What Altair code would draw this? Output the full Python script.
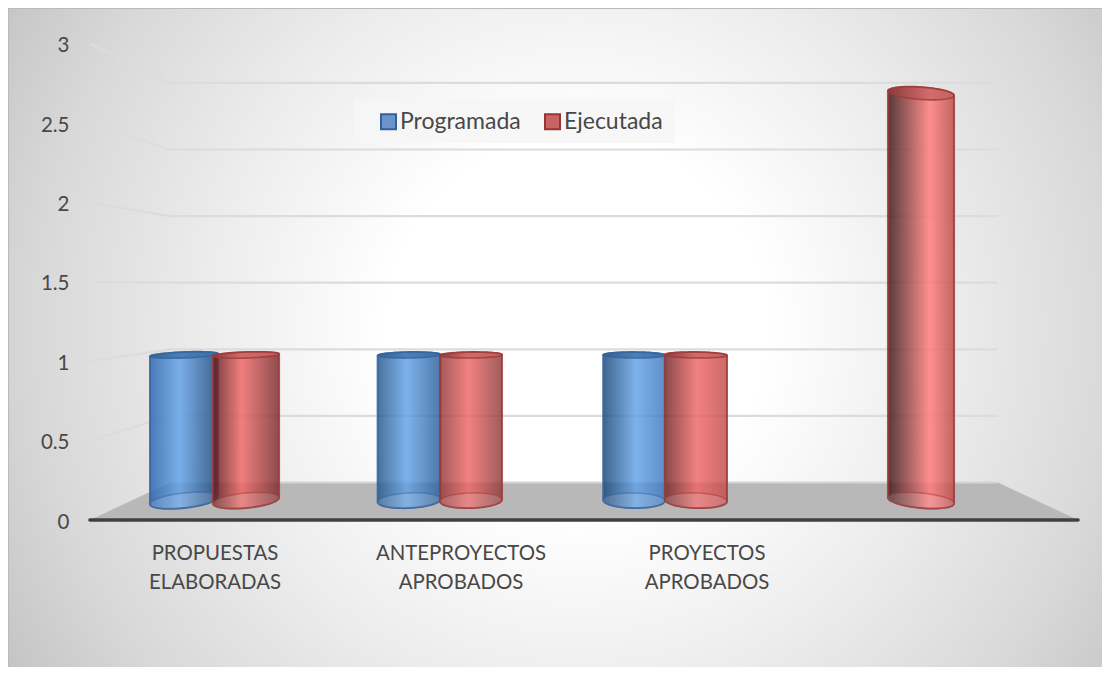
import math
import altair as alt
import pandas as pd

# ---- chart values ----
categories = ["PROPUESTAS\nELABORADAS", "ANTEPROYECTOS\nAPROBADOS", "PROYECTOS\nAPROBADOS", ""]
programada = [1, 1, 1, None]
ejecutada = [1, 1, 1, 2.8]
series_names = ["Programada", "Ejecutada"]
y_ticks = [0, 0.5, 1, 1.5, 2, 2.5, 3]

# ---- styling ----
W, H = 1094, 659
FONT = "Lato"
TEXT = "#484848"
BLUE_EDGE, RED_EDGE = "#35649e", "#9c3a3a"
BODY_OPACITY = 0.82
# seen colours per cylinder: (left colour, highlight offset, right colour)
SHADES = {
    (0, 0): ("#4d7fbc", 0.42, "#3f6591"), (0, 1): ("#7b4040", 0.42, "#8f4f4f"),
    (1, 0): ("#49749f", 0.45, "#4f7aab"), (1, 1): ("#a65a5a", 0.45, "#a05c5c"),
    (2, 0): ("#3f658f", 0.52, "#5e8fc9"), (2, 1): ("#8b4b4b", 0.50, "#cd6a6a"),
    (3, 1): ("#5b3d3d", 0.62, "#c86868"),
}
PEAK = {0: "#7cb0ea", 1: "#f08080"}
PEAK_4 = "#ff9090"


def body_colour(hex_colour):
    """Colour to paint so that, translucent over white, it looks like hex_colour."""
    rgb = [int(hex_colour[k:k + 2], 16) for k in (1, 3, 5)]
    out = [max(0, round((c - 255 * (1 - BODY_OPACITY)) / BODY_OPACITY)) for c in rgb]
    return "#%02x%02x%02x" % tuple(out)


# conversions from the figure's layout to the scale units
def idx(X):
    return (X - 215) / 225


def val(Y):
    return (520 - Y) / 158.67


x_scale = alt.Scale(domain=[idx(8), idx(8 + W)], range=[0, W], nice=False, zero=False)
y_scale = alt.Scale(domain=[val(8 + H), val(8)], range=[H, 0], nice=False, zero=False)
y_axis = alt.Axis(
    values=y_ticks, title=None, domain=False, ticks=False, grid=False, offset=-61,
    labelFont=FONT, labelFontSize=20.5, labelColor=TEXT, labelPadding=0, format="~g",
    zindex=1, labelOverlap=False, labelFlush=False, labelOffset=2,
)
X = lambda f="x": alt.X(f"{f}:Q", scale=x_scale, axis=None)
Y = lambda f="y": alt.Y(f"{f}:Q", scale=y_scale, axis=y_axis)


def depth_y(v, d):
    """Screen height of value v on a plane at depth d (0 = front, 1 = back wall)."""
    front, back = 520 - 158.67 * v, 482.5 - 133.2 * v
    return front + (back - front) * d


layers = []

# chart background
bg_fill = alt.Gradient(
    gradient="radial", x1=0.52, y1=0.49, x2=0.52, y2=0.49, r1=0, r2=0.62,
    stops=[
        alt.GradientStop(color="#ffffff", offset=0),
        alt.GradientStop(color="#ffffff", offset=0.28),
        alt.GradientStop(color="#ececec", offset=0.55),
        alt.GradientStop(color="#d8d8d8", offset=0.8),
        alt.GradientStop(color="#c2c2c2", offset=1),
    ],
)
layers.append(
    alt.Chart(alt.Data(values=[{"a": 1}]))
    .mark_rect(fill=bg_fill)
    .encode(x=alt.value(0), x2=alt.value(W), y=alt.value(0), y2=alt.value(H))
)
# top and left border of the chart area
layers.append(
    alt.Chart(alt.Data(values=[{"a": 1}]))
    .mark_rule(color="#bababa", strokeWidth=2)
    .encode(x=alt.value(0), x2=alt.value(W), y=alt.value(0))
)
layers.append(
    alt.Chart(alt.Data(values=[{"a": 1}]))
    .mark_rule(color="#bababa", strokeWidth=2)
    .encode(x=alt.value(0), y=alt.value(0), y2=alt.value(H))
)

# legend source (zero-size points: only the legend is seen)
legend_df = pd.DataFrame({"s": series_names, "x": [0, 0], "y": [1, 1]})
layers.append(
    alt.Chart(legend_df)
    .mark_point(filled=True, size=0, opacity=1, shape="square")
    .encode(
        x=X(), y=Y(),
        color=alt.Color(
            "s:N",
            scale=alt.Scale(domain=series_names, range=["#6a95cc", "#c96464"]),
            legend=alt.Legend(
                title=None, orient="none", legendX=369, legendY=102, direction="horizontal",
                symbolType="square", symbolSize=225, symbolStrokeWidth=2, labelFont=FONT,
                labelFontSize=23, labelColor=TEXT, padding=0,
                columnPadding=20, labelOffset=0, symbolOpacity=1,
            ),
        ),
        stroke=alt.Stroke("s:N", scale=alt.Scale(domain=series_names, range=["#345f9a", "#963634"]), legend=None),
    )
)

# walls: gridlines, running along the left wall then along the back wall
grid_rows = []
for v in y_ticks[1:]:
    grid_rows += [
        {"v": v, "o": 0, "x": idx(90), "y": val(depth_y(v, 0))},
        {"v": v, "o": 1, "x": idx(170), "y": val(depth_y(v, 1))},
        {"v": v, "o": 2, "x": idx(998), "y": val(depth_y(v, 1))},
    ]
layers.append(
    alt.Chart(pd.DataFrame(grid_rows))
    .mark_line(color="#dcdcdc", strokeWidth=2.2)
    .encode(x=X(), y=Y(), detail="v:N", order="o:Q")
)

# legend panel
layers.append(
    alt.Chart(pd.DataFrame({"x": [idx(354)], "x2": [idx(675)], "y": [val(99)], "y2": [val(143)]}))
    .mark_rect(fill="#f6f6f6", opacity=0.85)
    .encode(x=X(), x2="x2:Q", y=Y(), y2="y2:Q")
)

# floor
back0, front0 = val(depth_y(0, 1)), val(depth_y(0, 0))
floor = pd.DataFrame(
    {"x": [idx(90), idx(170), idx(998), idx(1078)], "y": [front0, back0, back0, front0], "y2": [front0] * 4}
)
layers.append(alt.Chart(floor).mark_area(color="#b8b8b8").encode(x=X(), y=Y(), y2="y2:Q"))
layers.append(
    alt.Chart(pd.DataFrame({"x": [idx(170)], "x2": [idx(998)], "y": [back0]}))
    .mark_rule(color="#d4d4d4", strokeWidth=2)
    .encode(x=X(), x2="x2:Q", y=Y())
)
# front edge
layers.append(
    alt.Chart(pd.DataFrame({"x": [idx(90)], "x2": [idx(1078)], "y": [front0]}))
    .mark_rule(color="#404040", strokeWidth=3.6, strokeCap="round")
    .encode(x=X(), x2="x2:Q", y=Y())
)


def arc(cx, rx, cy, ry, slope, n=36):
    """Upper and lower screen edge of a tilted ellipse, across its width."""
    rows = []
    for k in range(n + 1):
        t = math.pi * (1 - k / n)
        dx = rx * math.cos(t)
        up = cy + slope * dx - ry * math.sin(t)
        lo = cy + slope * dx + ry * math.sin(t)
        rows.append((cx + dx, up, lo))
    return rows


def gradient(left, off, peak, right):
    return alt.Gradient(
        gradient="linear", x1=0, y1=0, x2=1, y2=0,
        stops=[
            alt.GradientStop(color=left, offset=0),
            alt.GradientStop(color=peak, offset=off),
            alt.GradientStop(color=peak, offset=min(off + 0.03, 1)),
            alt.GradientStop(color=right, offset=1),
        ],
    )


PLANE = 0.52
for i in range(len(categories)):
    for s, values in enumerate([programada, ejecutada]):
        v = values[i]
        if v is None:
            continue
        group = 215 + 225 * i
        cx = group + (-31 if s == 0 else 31)
        d = abs(cx - 584)
        rx = (61.5 + 6.5 * (d / 400) ** 2) / 2
        slope = math.tan(math.radians(0.015 * (cx - 584)))
        yb, yt = depth_y(0, PLANE), depth_y(v, PLANE)
        ry_b = 7.5
        eye = abs(yt - 270) / 230
        ry_t = max(2.8, 8.0 * eye)
        bottom = arc(cx, rx, yb, ry_b, slope)
        top = arc(cx, rx, yt, ry_t, slope * eye)
        body = pd.DataFrame(
            [{"x": idx(a[0]), "y": val(t[1]), "y2": val(a[2])} for a, t in zip(bottom, top)]
        )
        low = pd.DataFrame([{"x": idx(a), "y": val(u), "y2": val(l)} for a, u, l in bottom])
        cap = pd.DataFrame([{"x": idx(a), "y": val(u), "y2": val(l)} for a, u, l in top])
        left, off, right = SHADES[(i, s)]
        peak = PEAK_4 if i == 3 else PEAK[s]
        edge = BLUE_EDGE if s == 0 else RED_EDGE
        layers.append(
            alt.Chart(body)
            .mark_area(
                fill=gradient(body_colour(left), off, body_colour(peak), body_colour(right)),
                fillOpacity=BODY_OPACITY, stroke=edge, strokeWidth=2, strokeOpacity=0.85,
            )
            .encode(x=X(), y=Y(), y2="y2:Q")
        )
        layers.append(
            alt.Chart(low)
            .mark_area(fill="#ffffff", fillOpacity=0.14, stroke=edge, strokeWidth=1.4, strokeOpacity=0.5)
            .encode(x=X(), y=Y(), y2="y2:Q")
        )
        cap_l = "#8d3b3b" if s == 1 else "#35608f"
        cap_r = "#c96060" if s == 1 else "#3f6ea6"
        layers.append(
            alt.Chart(cap)
            .mark_area(fill=gradient(cap_l, off, "#d06a6a" if s else "#4a7cb5", cap_r), opacity=0.95,
                       stroke=edge, strokeWidth=1.6, strokeOpacity=0.85)
            .encode(x=X(), y=Y(), y2="y2:Q")
        )

# category labels (front plane spacing)
cat_df = pd.DataFrame(
    {"x": [idx(215 + 246 * i) for i in range(4)], "y": [val(554)] * 4, "t": categories}
)
layers.append(
    alt.Chart(cat_df)
    .mark_text(font=FONT, fontSize=20.4, color=TEXT, align="center", baseline="middle", lineBreak="\n", lineHeight=29)
    .encode(x=X(), y=Y(), text="t:N")
)

chart = (
    alt.layer(*layers)
    .resolve_scale(color="independent", stroke="independent")
    .properties(width=W, height=H, padding=0, autosize=alt.AutoSizeParams(type="none"), background="white")
    .configure_view(stroke=None)
)
chart.save("out.html", embed_options={"renderer": "svg", "actions": False})
